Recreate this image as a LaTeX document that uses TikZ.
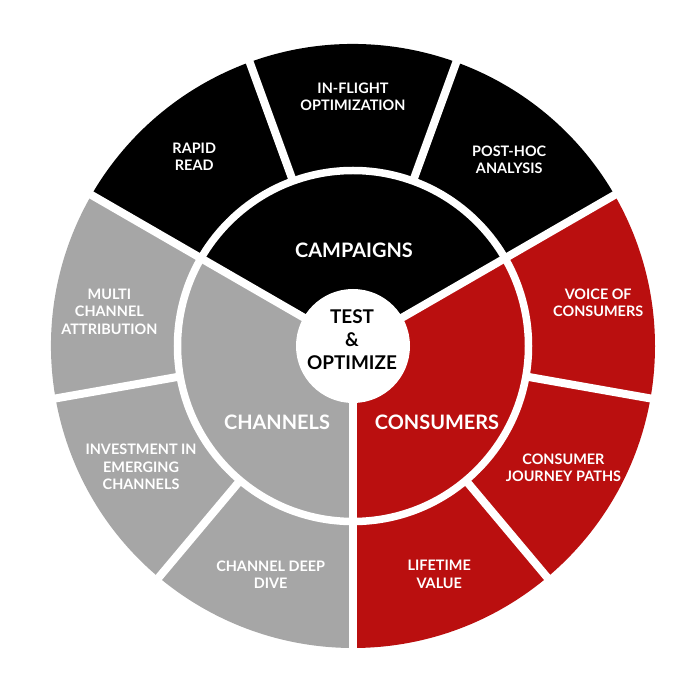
\documentclass[tikz,border=0pt]{standalone}
\usepackage{fontspec}
\setmainfont{Lato}
\usepackage{tikz}
\usetikzlibrary{calc}

\definecolor{campblack}{RGB}{0,0,0}
\definecolor{changray}{RGB}{166,166,166}
\definecolor{consred}{RGB}{186,15,15}

\tikzset{
    gapline/.style={white, line width=8bp},
    outerlabel/.style={text=white, align=center, font=\bfseries\fontsize{14.5}{17.5}\selectfont},
    innerlabel/.style={text=white, align=center, font=\bfseries\fontsize{20}{24}\selectfont}
}

\begin{document}
\begin{tikzpicture}[x=1bp, y=1bp]
    \useasboundingbox (-353,-334) rectangle (347,346);
    \coordinate (O) at (0,0);
    \fill[campblack] (O) -- (30:302) arc[start angle=30, end angle=150, radius=302] -- cycle;
    \fill[changray] (O) -- (150:302) arc[start angle=150, end angle=270, radius=302] -- cycle;
    \fill[consred] (O) -- (270:302) arc[start angle=270, end angle=390, radius=302] -- cycle;
    \draw[gapline] (O) -- (30:310);
    \draw[gapline] (O) -- (150:310);
    \draw[gapline] (O) -- (270:310);
    \draw[gapline] (70:176) -- (70:310);
    \draw[gapline] (110:176) -- (110:310);
    \draw[gapline] (190:176) -- (190:310);
    \draw[gapline] (230:176) -- (230:310);
    \draw[gapline] (310:176) -- (310:310);
    \draw[gapline] (350:176) -- (350:310);
    \draw[white, line width=7.5bp] (O) circle (175.5);
    \fill[white] (O) circle (57);
    \node[outerlabel] (rapid) at (130:247) {RAPID\\READ};
    \node[outerlabel] (inflight) at (90:249) {IN-FLIGHT\\OPTIMIZATION};
    \node[outerlabel] (posthoc) at (50:243) {POST-HOC\\ANALYSIS};
    \node[outerlabel] (voice) at (10:249) {VOICE OF\\CONSUMERS};
    \node[outerlabel] (journey) at (-30:243) {CONSUMER\\JOURNEY PATHS};
    \node[outerlabel] (lifetime) at (-69.3:244) {LIFETIME\\VALUE};
    \node[outerlabel] (deepdive) at (-109.8:243) {CHANNEL DEEP\\DIVE};
    \node[outerlabel] (invest) at (-150.3:244) {INVESTMENT IN\\EMERGING\\CHANNELS};
    \node[outerlabel] (multi) at (172:246) {MULTI\\CHANNEL\\ATTRIBUTION};
    \node[innerlabel] (campaigns) at (1,96) {CAMPAIGNS};
    \node[innerlabel] (channels) at (-76,-76) {CHANNELS};
    \node[innerlabel] (consumers) at (84,-76) {CONSUMERS};
    \node[align=center, font=\bfseries\fontsize{19}{23}\selectfont] (test) at (-1,6) {TEST\\\&\\OPTIMIZE};
\end{tikzpicture}
\end{document}
